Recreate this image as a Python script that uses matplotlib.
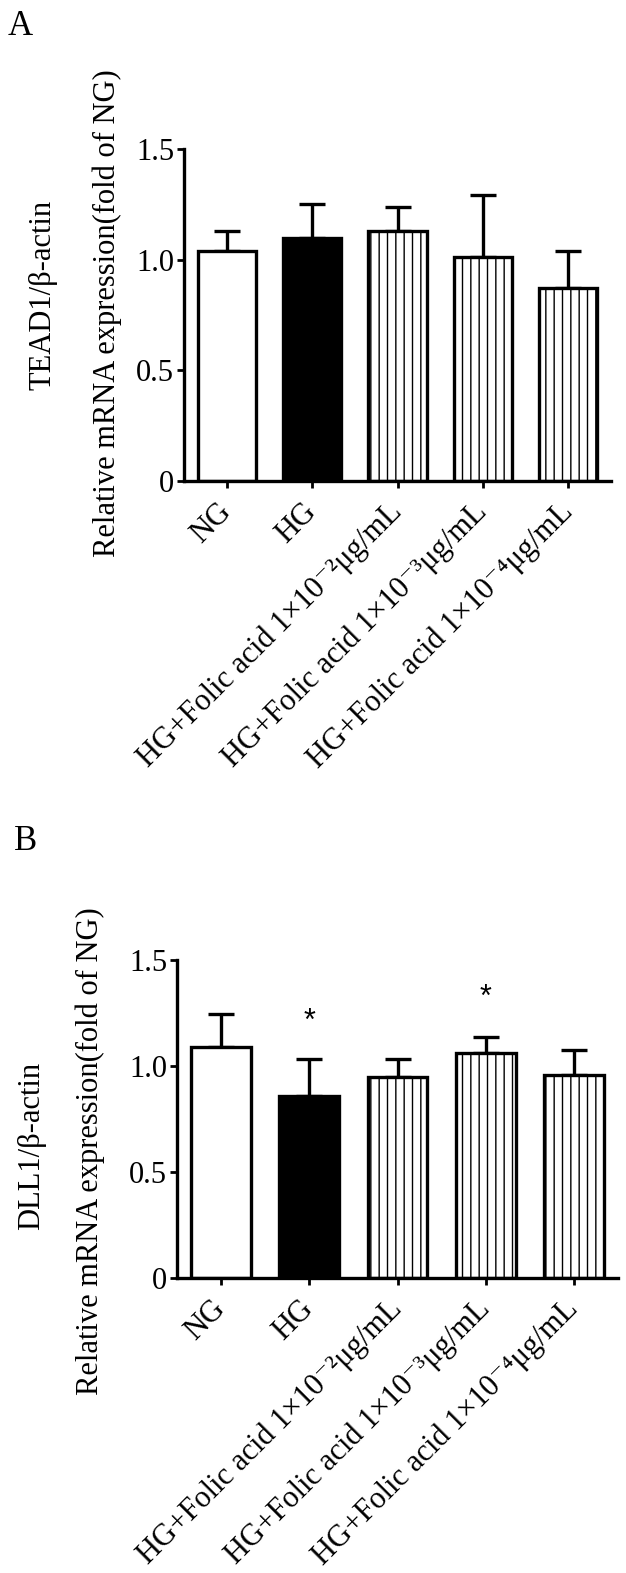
import numpy as np
import matplotlib
matplotlib.use('Agg')
import matplotlib.pyplot as plt

plt.rcParams['font.family'] = ['Liberation Serif', 'DejaVu Serif']
plt.rcParams['hatch.linewidth'] = 1.0
plt.rcParams['hatch.color'] = 'black'

# ========== Data ==========
groups = ['NG', 'HG',
          'HG+Folic acid 1×10⁻²μg/mL',
          'HG+Folic acid 1×10⁻³μg/mL',
          'HG+Folic acid 1×10⁻⁴μg/mL']
fills = ['white', 'black', 'white', 'white', 'white']
hatches = ['', '', '||', '||', '||']

tead1_mean = [1.04, 1.10, 1.13, 1.01, 0.87]
tead1_err = [0.09, 0.15, 0.11, 0.28, 0.17]

dll1_mean = [1.09, 0.86, 0.95, 1.06, 0.956]
dll1_err = [0.155, 0.175, 0.085, 0.077, 0.12]
dll1_star = ['', '*', '', '*', '']
dll1_star_y = [0, 1.21, 0, 1.32, 0]

yticks = [0, 0.5, 1.0, 1.5]
ytick_labels = ['0', '0.5', '1.0', '1.5']

W, H = 626, 1573
fig = plt.figure(figsize=(W / 100, H / 100), dpi=100)


def px_axes(left, right, top, bottom):
    return fig.add_axes([left / W, 1 - bottom / H, (right - left) / W, (bottom - top) / H])


def draw_panel(ax, means, errs):
    x = np.arange(len(means))
    ax.bar(x, means, width=0.68, color=fills, edgecolor='black',
           linewidth=2.4, zorder=2)
    for patch, h in zip(ax.patches, hatches):
        patch.set_hatch(h)
    ax.errorbar(x, means, yerr=[np.zeros(len(errs)), errs], fmt='none',
                ecolor='black', elinewidth=2.4, capsize=9.5, capthick=2.4, zorder=1)
    ax.set_xlim(-0.5, 4.5)
    ax.set_ylim(0, 1.5)
    ax.set_yticks(yticks)
    ax.set_yticklabels(ytick_labels, fontsize=22)
    ax.set_xticks(x)
    ax.set_xticklabels(groups, fontsize=22, rotation=45, ha='right',
                       va='center', rotation_mode='anchor')
    ax.tick_params(axis='y', direction='out', length=5, width=2, pad=2)
    ax.tick_params(axis='x', direction='out', length=5, width=2, pad=14)
    for s in ['top', 'right']:
        ax.spines[s].set_visible(False)
    for s in ['left', 'bottom']:
        ax.spines[s].set_linewidth(2.4)
    ax.patch.set_alpha(0)


# ========== Panel A ==========
axA = px_axes(184, 611, 149, 481)
draw_panel(axA, tead1_mean, tead1_err)
fig.text(8 / W, 1 - 10 / H, 'A', fontsize=25, ha='left', va='top')
fig.text(43 / W, 1 - 295 / H, 'TEAD1/β-actin', fontsize=22, rotation=90,
         ha='center', va='center')
fig.text(107 / W, 1 - 313 / H, 'Relative mRNA expression(fold of NG)', fontsize=22,
         rotation=90, ha='center', va='center')

# ========== Panel B ==========
axB = px_axes(177, 618, 960, 1278)
draw_panel(axB, dll1_mean, dll1_err)
for i, s in enumerate(dll1_star):
    if s:
        axB.text(i, dll1_star_y[i], s, fontsize=22, ha='center', va='center',
                 family=['Liberation Sans', 'DejaVu Sans'])
fig.text(14 / W, 1 - 825 / H, 'B', fontsize=25, ha='left', va='top')
fig.text(32 / W, 1 - 1146 / H, 'DLL1/β-actin', fontsize=22, rotation=90,
         ha='center', va='center')
fig.text(90 / W, 1 - 1151 / H, 'Relative mRNA expression(fold of NG)', fontsize=22,
         rotation=90, ha='center', va='center')

plt.savefig('out.png', dpi=100)
